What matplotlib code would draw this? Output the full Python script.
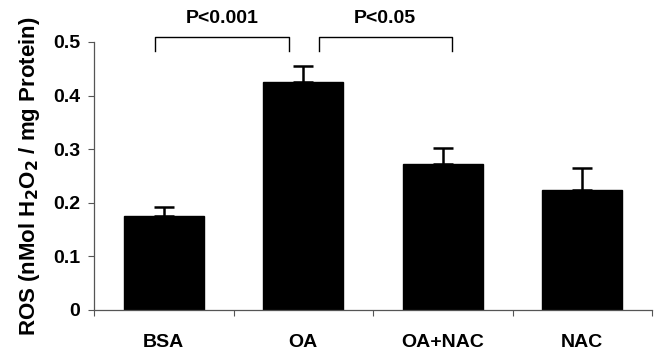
import matplotlib
matplotlib.use("Agg")
import matplotlib.pyplot as plt
import numpy as np

categories = ["BSA", "OA", "OA+NAC", "NAC"]
values = [0.175, 0.426, 0.272, 0.224]
errors = [0.018, 0.030, 0.031, 0.040]
yticks = [0, 0.1, 0.2, 0.3, 0.4, 0.5]
ytick_labels = ["0", "0.1", "0.2", "0.3", "0.4", "0.5"]
comparisons = [(0, 1, "P<0.001"), (1, 2, "P<0.05")]

plt.rcParams['font.family'] = ['Liberation Sans', 'DejaVu Sans']

fig = plt.figure(figsize=(6.57, 3.56), dpi=100)
ax = fig.add_axes([94/657, 1-310/356, (652-94)/657, (310-42)/356])

x = np.arange(len(categories))
ax.bar(x, values, width=0.57, color="black", edgecolor="black", zorder=2)
ax.errorbar(x, values, yerr=[np.zeros(len(values)), errors], fmt="none",
            ecolor="black", elinewidth=1.8, capsize=7, capthick=1.8, zorder=1)

ax.set_xlim(-0.5, len(categories) - 0.5)
ax.set_ylim(0, 0.5)
ax.set_yticks(yticks)
ax.set_yticklabels(ytick_labels, fontsize=14, fontweight="bold")
ax.set_xticks(x)
ax.set_xticklabels(categories, fontsize=14, fontweight="bold")
ax.tick_params(axis="x", which="major", length=0, pad=17)
ax.set_xticks(np.arange(-0.5, len(categories)), minor=True)
ax.tick_params(axis="x", which="minor", length=4, width=0.8, color="#555555", direction="out")
ax.tick_params(axis="y", length=4, width=0.8, color="#555555", pad=6)

for s in ["top", "right"]:
    ax.spines[s].set_visible(False)
for s in ["left", "bottom"]:
    ax.spines[s].set_color("#555555")
    ax.spines[s].set_linewidth(0.9)

ax.set_ylabel("ROS (nMol H$_\\mathbf{2}$O$_\\mathbf{2}$ / mg Protein)", fontsize=16,
              fontweight="bold", labelpad=8)

# significance brackets
offsets = {(0, 1): (-0.063, -0.10), (1, 2): (0.11, 0.066)}
ytop, ylow = 0.509, 0.483
for a, b, txt in comparisons:
    oa, ob = offsets[(a, b)]
    xa, xb = a + oa, b + ob
    ax.plot([xa, xa, xb, xb], [ylow, ytop, ytop, ylow], color="black", lw=1.0,
            clip_on=False)
    ax.text((xa + xb) / 2, 0.528, txt, ha="center", va="bottom", fontsize=14,
            fontweight="bold")

fig.savefig("out.png", dpi=100)
